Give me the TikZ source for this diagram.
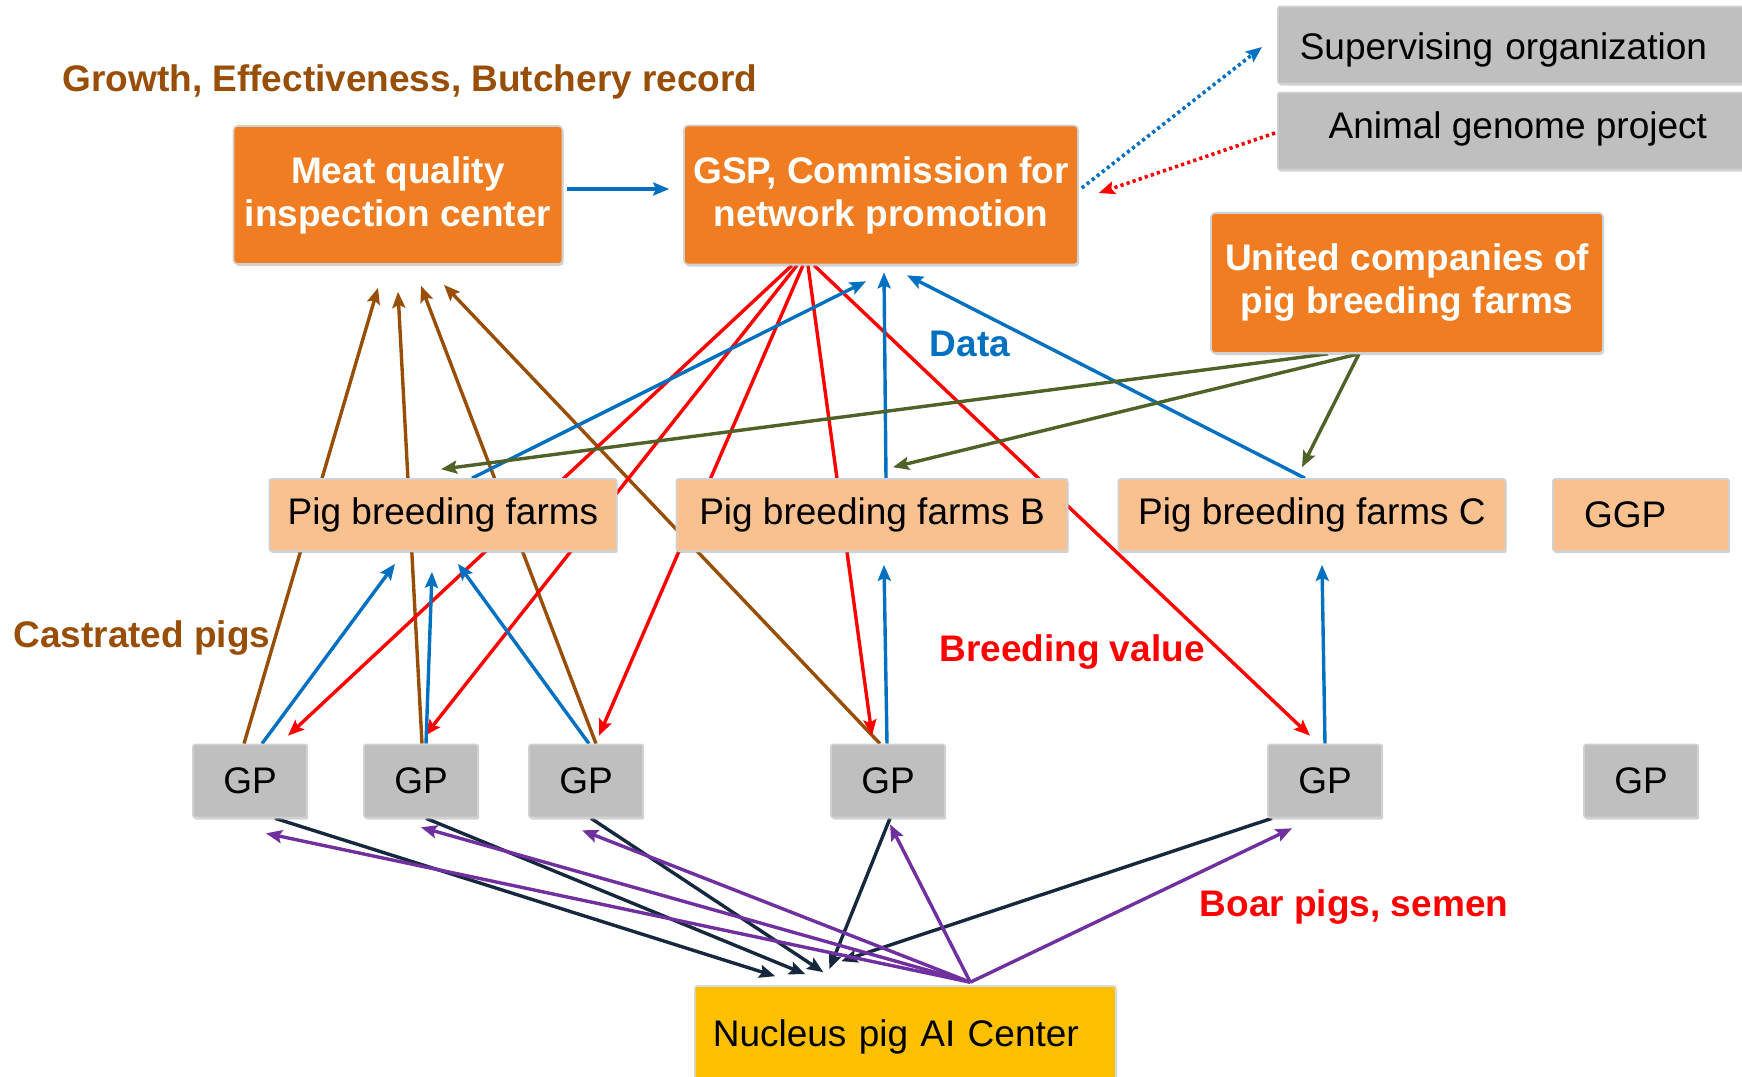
\documentclass[tikz,border=0pt]{standalone}
\usepackage{fontspec}
\setmainfont{Liberation Sans}
\usetikzlibrary{arrows.meta,calc,shadows}
\pgfdeclarelayer{bg}
\pgfsetlayers{bg,main}
\definecolor{orgfill}{RGB}{240,125,34}
\definecolor{lightorg}{RGB}{249,193,144}
\definecolor{gpgray}{RGB}{191,191,191}
\definecolor{goldc}{RGB}{252,192,0}
\definecolor{brn}{RGB}{153,78,8}
\definecolor{blu}{RGB}{0,112,192}
\definecolor{rd}{RGB}{255,0,0}
\definecolor{grn}{RGB}{79,98,40}
\definecolor{navyc}{RGB}{22,40,62}
\definecolor{purp}{RGB}{112,48,160}
\tikzset{
  basebox/.style={rectangle, inner sep=0pt, line width=0.8pt, draw=black!18,
    drop shadow={shadow xshift=0.6pt, shadow yshift=-1pt, fill=black!35}},
  obox/.style={basebox, rounded corners=2pt, fill=orgfill, text=white,
    font=\fontsize{18.5pt}{21.5pt}\selectfont\bfseries, align=center},
  pbox/.style={basebox, rounded corners=1pt, fill=lightorg, minimum height=36pt},
  gbox/.style={basebox, rounded corners=1pt, fill=gpgray, minimum height=36.5pt},
  gpbox/.style={gbox, minimum width=57pt},
  lbl/.style={font=\fontsize{18.5pt}{21.5pt}\selectfont\bfseries, inner sep=0pt},
  tip/.style={-{Stealth[length=8pt,width=6.5pt,inset=1.4pt]}},
  conn/.style={tip, line width=1.7pt},
  brownline/.style={conn, draw=brn},
  blueline/.style={conn, draw=blu},
  redline/.style={conn, draw=rd},
  greenline/.style={conn, draw=grn},
  navyline/.style={conn, draw=navyc},
  purpleline/.style={conn, draw=purp},
  dotline/.style={tip, line width=1.8pt, dash pattern=on 1.6pt off 1.6pt},
}
\begin{document}
\begin{tikzpicture}[x=0.5pt,y=-0.5pt, font=\fontsize{18.5pt}{21.5pt}\selectfont]
\useasboundingbox (0,0) rectangle (1742,1077);
\clip (0,0) rectangle (1742,1077);

% top boxes
\node[obox, minimum width=164.5pt, minimum height=69pt] (meat) at (398,195) {Meat quality\\inspection center};
\node[obox, minimum width=197pt, minimum height=69.5pt] (gsp) at (881,195) {GSP, Commission for\\network promotion};
\node[obox, minimum width=196pt, minimum height=70pt] (united) at (1407,283) {United companies of\\pig breeding farms};
\node[gbox, anchor=west, minimum width=240pt, minimum height=38.5pt, text width=218pt, align=left, text height=16pt, text depth=1.5pt] (sup) at (1277,45) {Supervising organization};
\node[gbox, anchor=west, minimum width=240pt, minimum height=38.5pt, text height=12pt, text depth=5pt] (agp) at (1277,131) {Animal genome project};

% breeding farms
\node[pbox, minimum width=173.5pt] (pbA) at (443,515) {Pig breeding farms};
\node[pbox, minimum width=195.5pt] (pbB) at (872,515) {Pig breeding farms B};
\node[pbox, minimum width=193.5pt] (pbC) at (1312,515) {Pig breeding farms C};
\node[pbox, minimum width=88pt, text width=57pt, align=left] (ggp) at (1641,515) {GGP};

% GP boxes
\node[gpbox] (gp1) at (250,781) {GP};
\node[gpbox] (gp2) at (421,781) {GP};
\node[gpbox] (gp3) at (586,781) {GP};
\node[gpbox] (gp4) at (888,781) {GP};
\node[gpbox] (gp5) at (1325,781) {GP};
\node[gpbox] (gp6) at (1641,781) {GP};

% nucleus
\node[basebox, rounded corners=1pt, fill=goldc, draw=black!15, anchor=west, minimum width=210.5pt, minimum height=47pt, text width=192.5pt, align=left, text height=15.5pt, text depth=2pt] (nuc) at (694,1033) {Nucleus pig AI Center};

% labels
\node[lbl, text=brn] (lgrowth) at (410,82) {Growth, Effectiveness, Butchery record};
\node[lbl, text=blu] (ldata) at (970,344) {Data};
\node[lbl, text=brn] (lcast) at (142,638) {Castrated pigs};
\node[lbl, text=rd] (lbreed) at (1072,652) {Breeding value};
\node[lbl, text=rd] (lboar) at (1354,907) {Boar pigs, semen};

\begin{pgfonlayer}{bg}
% meat -> gsp
\draw[blueline] ($(meat.east)+(4,-6)$) -- ($(gsp.west)+(-14,-6)$);
% dotted
\draw[dotline, draw=blu] ($(gsp.east)+(3,-7)$) -- ($(sup.west)+(-15,2)$);
\draw[dotline, draw=rd] ($(agp.west)+(-2,2)$) -- ($(gsp.east)+(20,-2)$);
% brown: GP -> meat
\draw[brownline] ($(gp1.north)+(-6,0)$) -- ($(meat.south)+(-20,23)$);
\draw[brownline] ($(gp2.north)+(1,0)$) -- ($(meat.south)+(0,27)$);
\draw[brownline] ($(gp3.north)+(10,0)$) -- ($(meat.south)+(23,21)$);
\draw[brownline] ($(gp4.north)+(-8,0)$) -- ($(meat.south)+(46,20)$);
% red: gsp -> GP
\draw[redline] ($(gsp.south)+(-89,0)$) -- ($(gp1.north)+(38,-8)$);
\draw[redline] ($(gsp.south)+(-84,0)$) -- ($(gp2.north)+(4,-8)$);
\draw[redline] ($(gsp.south)+(-78,0)$) -- ($(gp3.north)+(13,-8)$);
\draw[redline] ($(gsp.south)+(-73,0)$) -- ($(gp4.north)+(-16,-8)$);
\draw[redline] ($(gsp.south)+(-67,0)$) -- ($(gp5.north)+(-15,-8)$);
% blue: farms -> gsp
\draw[blueline] ($(pbA.north)+(29,0)$) -- ($(gsp.south)+(-15,16)$);
\draw[blueline] ($(pbB.north)+(14,0)$) -- ($(gsp.south)+(3,7)$);
\draw[blueline] ($(pbC.north)+(-7,0)$) -- ($(gsp.south)+(26,10)$);
% blue: GP -> farms
\draw[blueline] ($(gp1.north)+(12,0)$) -- ($(pbA.south)+(-48,12)$);
\draw[blueline] ($(gp2.north)+(5,0)$) -- ($(pbA.south)+(-11,20)$);
\draw[blueline] ($(gp3.north)+(3,0)$) -- ($(pbA.south)+(15,12)$);
\draw[blueline] ($(gp4.north)+(-1,0)$) -- ($(pbB.south)+(12,13)$);
\draw[blueline] ($(gp5.north)+(0,0)$) -- ($(pbC.south)+(10,13)$);
% green: united -> farms
\draw[greenline] ($(united.south)+(-79,0)$) -- ($(pbA.north)+(-2,-9)$);
\draw[greenline] ($(united.south)+(-48,0)$) -- ($(pbB.north)+(21,-11)$);
\draw[greenline] ($(united.south)+(-48,0)$) -- ($(pbC.north)+(-10,-11)$);
% navy: GP -> nucleus
\draw[navyline] ($(gp1.south)+(25,0)$) -- ($(nuc.north)+(-130,-9)$);
\draw[navyline] ($(gp2.south)+(5,0)$) -- ($(nuc.north)+(-100,-11)$);
\draw[navyline] ($(gp3.south)+(5,0)$) -- ($(nuc.north)+(-82,-13)$);
\draw[navyline] ($(gp4.south)+(2,0)$) -- ($(nuc.north)+(-76,-16)$);
\draw[navyline] ($(gp5.south)+(-53,0)$) -- ($(nuc.north)+(-64,-24)$);
% purple: nucleus -> GP
\coordinate (nucTop) at ($(nuc.north)+(65,-3)$);
\draw[purpleline] (nucTop) -- ($(gp1.south)+(16,15)$);
\draw[purpleline] (nucTop) -- ($(gp2.south)+(0,9)$);
\draw[purpleline] (nucTop) -- ($(gp3.south)+(-4,12)$);
\draw[purpleline] (nucTop) -- ($(gp4.south)+(2,6)$);
\draw[purpleline] (nucTop) -- ($(gp5.south)+(-33,10)$);
\end{pgfonlayer}
\end{tikzpicture}
\end{document}
